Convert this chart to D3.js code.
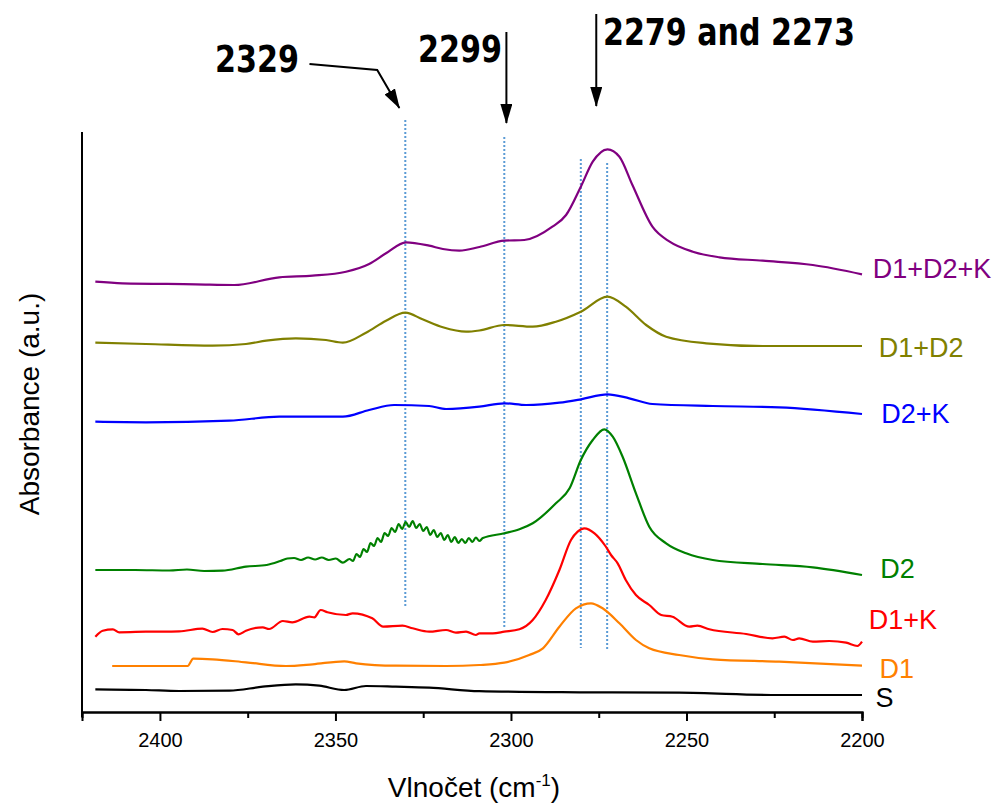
<!DOCTYPE html>
<html>
<head>
<meta charset="utf-8">
<script src="https://cdn.jsdelivr.net/npm/d3@7"></script>
<style>
  body { margin: 0; background: #fff; }
  text { font-family: "Liberation Sans", Arial, sans-serif; }
  .note { font-family: "Liberation Sans Narrow", "DejaVu Sans Condensed", sans-serif; font-weight: bold; }
</style>
</head>
<body>
<div id="chart"></div>
<script>
// IR spectra, offset traces (wavenumber cm-1, absorbance a.u. incl. offset)

var seriesNames = ["S", "D1", "D1+K", "D2", "D2+K", "D1+D2", "D1+D2+K"];
var seriesColors = ["#000000", "#FF8000", "#FF0000", "#008000", "#0000FF", "#808000", "#800080"];

var wnS = [2418.4, 2404.0, 2394.5, 2380.2, 2370.7, 2361.3, 2354.6, 2347.5, 2341.3, 2332.8, 2323.3, 2309.0, 2280.5, 2252.1, 2223.6, 2200];
var absS = [0.227, 0.22, 0.21, 0.213, 0.253, 0.277, 0.263, 0.22, 0.26, 0.253, 0.243, 0.208, 0.197, 0.193, 0.17, 0.17];

var wnD1 = [2413.6, 2392.1, 2390.5, 2385.0, 2375.5, 2364.1, 2356.5, 2347.5, 2344.1, 2332.8, 2318.5, 2309.0, 2301.9, 2294.8, 2290.9, 2286.2, 2281.5, 2277.2, 2273.9, 2269.1, 2264.4, 2260.6, 2252.1, 2242.5, 2223.6, 2200];
var absD1 = [0.46, 0.46, 0.533, 0.527, 0.497, 0.46, 0.477, 0.507, 0.487, 0.463, 0.46, 0.47, 0.493, 0.57, 0.637, 0.853, 1.037, 1.087, 1.037, 0.887, 0.72, 0.637, 0.57, 0.527, 0.503, 0.463];

var wnD1K = [2418.4, 2416.3, 2413.4, 2411.6, 2404.0, 2394.5, 2387.9, 2385.0, 2382.2, 2379.3, 2377.6, 2375.5, 2370.7, 2368.9, 2365.0, 2362.3, 2357.4, 2356.0, 2354.2, 2352.3, 2347.0, 2345.1, 2339.5, 2336.4, 2330.9, 2328.0, 2323.3, 2318.5, 2315.7, 2312.8, 2310.0, 2309.0, 2305.2, 2301.9, 2297.6, 2293.8, 2290.1, 2286.2, 2282.9, 2281.0, 2279.1, 2276.2, 2273.1, 2271.5, 2269.6, 2267.3, 2264.4, 2260.6, 2257.2, 2254.0, 2249.2, 2246.9, 2243.5, 2233.0, 2225.5, 2222.1, 2219.7, 2217.9, 2214.0, 2209.3, 2204.5, 2201.3, 2200];
var absD1K = [0.753, 0.813, 0.827, 0.797, 0.803, 0.807, 0.833, 0.80, 0.83, 0.82, 0.777, 0.813, 0.847, 0.83, 0.91, 0.897, 0.953, 0.947, 1.02, 0.997, 0.97, 0.987, 0.937, 0.853, 0.863, 0.837, 0.803, 0.82, 0.793, 0.803, 0.77, 0.787, 0.787, 0.803, 0.827, 0.92, 1.12, 1.42, 1.72, 1.803, 1.837, 1.787, 1.66, 1.57, 1.487, 1.32, 1.17, 1.07, 0.97, 0.953, 0.853, 0.863, 0.827, 0.78, 0.737, 0.753, 0.72, 0.737, 0.703, 0.71, 0.693, 0.66, 0.703];

var wnD2 = [2418.4, 2407.1, 2397.3, 2392.3, 2387.4, 2382.2, 2375.5, 2369.6, 2365.7, 2363.7, 2361.8, 2359.8, 2357.8, 2355.8, 2353.9, 2351.9, 2349.9, 2347.9, 2346.0, 2345.0,
  2344, 2343, 2342, 2341, 2340, 2339, 2338, 2337, 2336, 2335, 2334, 2333, 2332, 2331, 2330, 2329, 2328, 2327, 2326, 2325,
  2324, 2323, 2322, 2321, 2320, 2319, 2318, 2317, 2316, 2315, 2314, 2313, 2312, 2311, 2310, 2309, 2308,
  2301.9, 2297.6, 2293.8, 2287.2, 2283.3, 2280.1, 2276.7, 2273.4, 2271.0, 2268.2, 2264.4, 2260.6, 2255.8, 2250.1, 2242.5, 2228.3, 2214.0, 2200];
var absD2 = [1.42, 1.42, 1.415, 1.425, 1.41, 1.413, 1.453, 1.47, 1.51, 1.535, 1.54, 1.52, 1.545, 1.525, 1.545, 1.52, 1.535, 1.493, 1.53, 1.51,
  1.58, 1.55, 1.63, 1.60, 1.69, 1.66, 1.74, 1.70, 1.79, 1.76, 1.84, 1.80, 1.88, 1.83, 1.90, 1.85, 1.91, 1.84, 1.88, 1.81,
  1.85, 1.77, 1.82, 1.75, 1.79, 1.72, 1.77, 1.70, 1.75, 1.69, 1.73, 1.69, 1.74, 1.70, 1.745, 1.71, 1.74,
  1.787, 1.827, 1.887, 2.087, 2.237, 2.52, 2.72, 2.827, 2.753, 2.553, 2.187, 1.853, 1.687, 1.587, 1.52, 1.48, 1.447, 1.37];

var wnD2K = [2418.4, 2404.0, 2380.2, 2366.0, 2347.9, 2340.4, 2333.3, 2323.3, 2318.5, 2309.0, 2301.9, 2295.7, 2286.2, 2280.1, 2272.5, 2266.3, 2259.7, 2242.5, 2223.6, 2200];
var absD2K = [2.903, 2.897, 2.913, 2.953, 2.953, 3.02, 3.07, 3.06, 3.03, 3.053, 3.087, 3.07, 3.093, 3.127, 3.177, 3.137, 3.08, 3.06, 3.047, 2.98];

var wnD1D2 = [2418.4, 2404.0, 2385.0, 2375.5, 2369.7, 2361.3, 2352.7, 2347.9, 2341.3, 2335.6, 2330.1, 2325.2, 2319.4, 2312.8, 2309.0, 2301.9, 2293.8, 2287.2, 2280.1, 2272.5, 2267.3, 2261.5, 2255.8, 2244.4, 2228.3, 2200];
var absD1D2 = [3.693, 3.68, 3.663, 3.68, 3.713, 3.737, 3.72, 3.693, 3.793, 3.913, 3.993, 3.927, 3.847, 3.803, 3.815, 3.87, 3.853, 3.903, 4.003, 4.153, 4.053, 3.87, 3.753, 3.687, 3.66, 3.66];

var wnD1D2K = [2418.4, 2410.7, 2389.8, 2378.8, 2366.0, 2356.5, 2347.0, 2340.4, 2335.6, 2329.9, 2323.3, 2319.4, 2314.7, 2309.0, 2301.9, 2296.2, 2288.2, 2284.3, 2280.1, 2276.7, 2272.5, 2269.1, 2265.4, 2259.7, 2254.8, 2248.2, 2240.6, 2228.3, 2214.0, 2200];
var absD1D2K = [4.303, 4.287, 4.277, 4.27, 4.347, 4.363, 4.403, 4.48, 4.587, 4.697, 4.663, 4.63, 4.613, 4.65, 4.713, 4.72, 4.853, 4.97, 5.253, 5.503, 5.627, 5.553, 5.27, 4.853, 4.703, 4.603, 4.547, 4.513, 4.47, 4.377];

var seriesWn = [wnS, wnD1, wnD1K, wnD2, wnD2K, wnD1D2, wnD1D2K];
var seriesAbs = [absS, absD1, absD1K, absD2, absD2K, absD1D2, absD1D2K];

// label baseline level (a.u.) and horizontal offset from the 2200 end
var labelLevel = [0.053, 0.337, 0.827, 1.337, 2.887, 3.547, 4.337];
var labelDx = [13.5, 17.5, 6.8, 18.2, 19.2, 16.8, 10.8];

// dotted marker lines
var markWn = [2330.1, 2301.9, 2280.1, 2272.6];
var markTop = [5.92, 5.75, 5.53, 5.49];
var markBottom = [1.04, 0.85, 0.64, 0.61];

var xTicksMajor = [2400, 2350, 2300, 2250, 2200];
var xTicksMinor = [2375, 2325, 2275, 2225];

var width = 1000, height = 805;

var x = d3.scaleLinear().domain([2422.2, 2200]).range([82, 862]);
var y = d3.scaleLinear().domain([0, 5.8]).range([712, 132]);

var svg = d3.select("#chart").append("svg")
    .attr("width", width)
    .attr("height", height);

var defs = svg.append("defs");
defs.append("marker")
    .attr("id", "arrow")
    .attr("viewBox", "0 0 20 12")
    .attr("refX", 19).attr("refY", 6)
    .attr("markerWidth", 20).attr("markerHeight", 12)
    .attr("markerUnits", "userSpaceOnUse")
    .attr("orient", "auto")
  .append("path")
    .attr("d", "M0,0 L20,6 L0,12 z")
    .attr("fill", "#000");

// dotted lines
svg.selectAll(".mark")
    .data(markWn)
  .enter().append("line")
    .attr("class", "mark")
    .attr("x1", function(d) { return x(d); })
    .attr("x2", function(d) { return x(d); })
    .attr("y1", function(d, i) { return y(markTop[i]); })
    .attr("y2", function(d, i) { return y(markBottom[i]); })
    .attr("stroke", "#5B9BD5")
    .attr("stroke-width", 2)
    .attr("stroke-dasharray", "2,2");

// spectra
var line = d3.line()
    .curve(d3.curveMonotoneX)
    .x(function(d) { return x(d[0]); })
    .y(function(d) { return y(d[1]); });

seriesNames.forEach(function(name, i) {
    var pts = seriesWn[i].map(function(w, j) { return [w, seriesAbs[i][j]]; });
    svg.append("path")
        .datum(pts)
        .attr("d", line)
        .attr("fill", "none")
        .attr("stroke", seriesColors[i])
        .attr("stroke-width", 2.2)
        .attr("stroke-linejoin", "round");

    svg.append("text")
        .attr("x", x(2200) + labelDx[i])
        .attr("y", y(labelLevel[i]))
        .attr("fill", seriesColors[i])
        .style("font-size", "27px")
        .text(name);
});

// axes
var minorAxis = d3.axisBottom(x).tickValues(xTicksMinor).tickSize(6).tickFormat("");
var majorAxis = d3.axisBottom(x).tickValues(xTicksMajor).tickSize(9).tickPadding(12).tickFormat(d3.format("d"));

var gx = svg.append("g").attr("transform", "translate(0," + y(0) + ")");
gx.call(minorAxis);
gx.append("g").call(majorAxis);
gx.selectAll(".domain").attr("stroke", "#000").attr("stroke-width", 2);
gx.selectAll(".tick line").attr("stroke", "#000").attr("stroke-width", 2);
gx.selectAll(".tick text")
    .attr("fill", "#000")
    .style("font-family", "'Liberation Sans', Arial, sans-serif")
    .style("font-size", "20px");

svg.append("line")
    .attr("x1", x(2422.2)).attr("x2", x(2422.2))
    .attr("y1", y(5.8)).attr("y2", y(0) + 5)
    .attr("stroke", "#000")
    .attr("stroke-width", 2);

// axis titles
var xt = svg.append("text")
    .attr("x", 474)
    .attr("y", 797)
    .attr("text-anchor", "middle")
    .style("font-size", "28px");
xt.append("tspan").text("Vlnočet (cm");
xt.append("tspan").attr("dy", -11).style("font-size", "17px").text("-1");
xt.append("tspan").attr("dy", 11).text(")");

svg.append("text")
    .attr("transform", "translate(39,404) rotate(-90)")
    .attr("text-anchor", "middle")
    .style("font-size", "28px")
    .text("Absorbance (a.u.)");

// peak annotations
var noteText = ["2329", "2299", "2279 and 2273"];
var noteWn = [2384.3, 2326.5, 2273.8];
var noteLevel = [6.40, 6.50, 6.67];
var noteLen = [84, 84, 252];

svg.selectAll(".note")
    .data(noteText)
  .enter().append("text")
    .attr("class", "note")
    .attr("x", function(d, i) { return x(noteWn[i]); })
    .attr("y", function(d, i) { return y(noteLevel[i]); })
    .attr("textLength", function(d, i) { return noteLen[i]; })
    .attr("lengthAdjust", "spacingAndGlyphs")
    .style("font-size", "38px")
    .text(function(d) { return d; });

var arrows = [
    [[2357.4, 6.48], [2338.1, 6.42], [2331.8, 6.04]],
    [[2301.3, 6.80], [2301.3, 5.89]],
    [[2275.7, 6.98], [2275.7, 6.06]]
];
var arrowLine = d3.line()
    .x(function(d) { return x(d[0]); })
    .y(function(d) { return y(d[1]); });

svg.selectAll(".arrow")
    .data(arrows)
  .enter().append("path")
    .attr("class", "arrow")
    .attr("d", arrowLine)
    .attr("fill", "none")
    .attr("stroke", "#000")
    .attr("stroke-width", 2)
    .attr("marker-end", "url(#arrow)");
</script>
</body>
</html>
